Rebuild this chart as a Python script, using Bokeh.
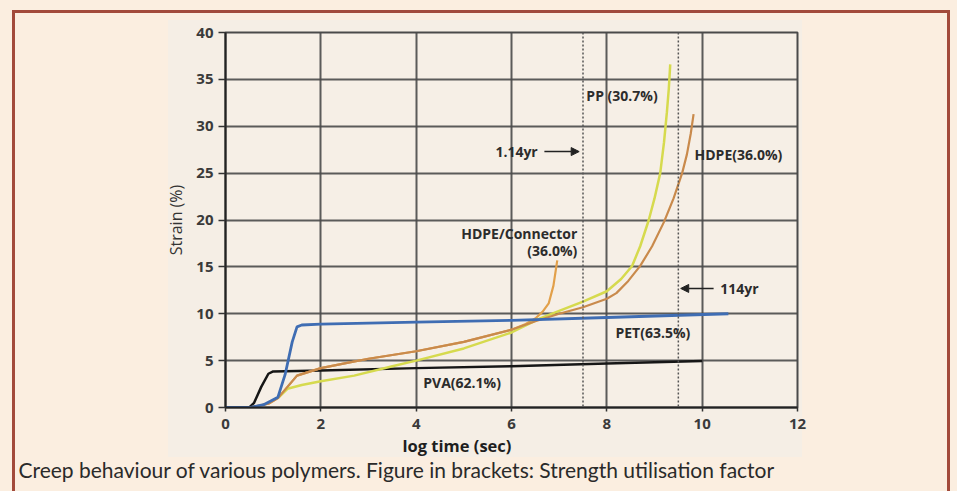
from bokeh.plotting import figure
from bokeh.models import Label, Arrow, NormalHead, Span, FixedTicker, Title
from bokeh.embed import file_html
from bokeh.resources import INLINE

# ---- data ----
x_ticks = [0, 2, 4, 6, 8, 10, 12]
y_ticks = [0, 5, 10, 15, 20, 25, 30, 35, 40]

pet_x = [0, 0.5, 0.8, 1.1, 1.25, 1.4, 1.5, 1.6, 2.0, 4.0, 6.0, 8.0, 10.55]
pet_y = [0, 0, 0.3, 1.1, 3.5, 7.0, 8.6, 8.8, 8.9, 9.1, 9.3, 9.6, 10.0]

pva_x = [0, 0.5, 0.6, 0.75, 0.9, 1.0, 2.0, 4.0, 6.0, 8.0, 10.0]
pva_y = [0, 0, 0.5, 2.2, 3.6, 3.85, 3.95, 4.2, 4.4, 4.7, 4.95]

hdpe_x = [0.5, 0.9, 1.1, 1.3, 1.5, 2.0, 2.5, 3.0, 4.0, 5.0, 6.0, 6.5, 7.0, 7.5, 8.0,
          8.2, 8.45, 8.7, 8.95, 9.2, 9.4, 9.58, 9.68, 9.76, 9.82]
hdpe_y = [0, 0.4, 1.0, 2.2, 3.4, 4.2, 4.7, 5.2, 6.0, 7.0, 8.3, 9.2, 10.0, 10.7, 11.6,
          12.2, 13.5, 15.1, 17.2, 19.8, 22.3, 25.0, 27.0, 29.2, 31.3]

conn_x = [0.5, 0.9, 1.1, 1.3, 1.5, 2.0, 2.5, 3.0, 4.0, 5.0, 6.0, 6.3, 6.5, 6.65, 6.78,
          6.88, 6.96]
conn_y = [0, 0.4, 1.0, 2.2, 3.4, 4.2, 4.7, 5.2, 6.0, 7.0, 8.3, 8.9, 9.5, 10.2, 11.1,
          13.0, 15.7]

pp_x = [1.1, 1.3, 1.6, 2.0, 2.7, 3.5, 4.0, 5.0, 6.0, 6.6, 7.0, 7.5, 8.0, 8.3, 8.53,
        8.7, 8.88, 9.0, 9.12, 9.2, 9.26, 9.3, 9.33]
pp_y = [1.0, 2.0, 2.4, 2.8, 3.4, 4.4, 5.0, 6.3, 8.0, 9.5, 10.3, 11.3, 12.4, 13.7, 15.1,
        17.2, 20.0, 22.3, 25.0, 28.3, 31.5, 34.0, 36.6]

marker_times = [7.5, 9.5]   # 1.14 yr and 114 yr

# ---- figure ----
CREAM = "#fbeee0"
PANEL = "#f5eee5"
BRD = "#a24a3b"
p = figure(width=957, height=491, x_range=(0, 12), y_range=(0, 40),
           output_backend="svg", toolbar_location=None,
           min_border_left=225, min_border_right=160, min_border_top=32,
           min_border_bottom=84,
           background_fill_color="#f6efe6", border_fill_color=None)
p.styles = {
    "background": (f"linear-gradient({BRD},{BRD}) 12px 10px / 3px 100% no-repeat, "
                   f"linear-gradient({BRD},{BRD}) 12px 10px / 938px 3px no-repeat, "
                   f"linear-gradient({BRD},{BRD}) 947px 10px / 3px 100% no-repeat, "
                   f"linear-gradient({PANEL},{PANEL}) 168px 20px / 634px 437px no-repeat, "
                   f"{CREAM}"),
}

p.outline_line_color = "#4a4a4a"
p.outline_line_width = 2

p.xaxis.ticker = FixedTicker(ticks=x_ticks)
p.yaxis.ticker = FixedTicker(ticks=y_ticks)
for ax in (p.xaxis[0], p.yaxis[0]):
    ax.axis_line_color = "#222222"
    ax.axis_line_width = 2
    ax.major_tick_line_color = "#333333"
    ax.major_tick_line_width = 1.5
    ax.major_tick_in = 0
    ax.minor_tick_line_color = None
    ax.major_label_text_font = "Open Sans"
    ax.major_label_text_font_style = "bold"
    ax.major_label_text_font_size = "15px"
    ax.major_label_text_color = "#3a3a3a"

p.xaxis.major_tick_out = 4
p.xaxis.major_label_standoff = 7
p.yaxis.major_tick_out = 7
p.yaxis.major_label_standoff = 5
p.yaxis.axis_label = "Strain (%)"
p.yaxis.axis_label_text_font = "Open Sans"
p.yaxis.axis_label_text_font_style = "normal"
p.yaxis.axis_label_text_font_size = "16px"
p.yaxis.axis_label_text_color = "#333333"
p.yaxis.axis_label_standoff = 6

p.grid.grid_line_color = "#4a4a4a"
p.grid.grid_line_width = 2
p.grid.grid_line_alpha = 0.9

for t in marker_times:
    p.add_layout(Span(location=t, dimension="height", line_color="#555555",
                      line_width=1.5, line_dash="2 2"))

# curves
p.line(pva_x, pva_y, line_color="#161616", line_width=2.5)
p.line(conn_x, conn_y, line_color="#e2a04a", line_width=2.2)
p.line(pp_x, pp_y, line_color="#d6da4e", line_width=2.5)
p.line(hdpe_x, hdpe_y, line_color="#c98a4c", line_width=2.2)
p.line(pet_x, pet_y, line_color="#3f6db3", line_width=2.8)

# annotations
lab = dict(text_font="Open Sans", text_font_style="bold", text_font_size="14px",
           text_color="#2c2c2c", text_baseline="middle")
p.add_layout(Label(x=7.57, y=33.3, text="PP (30.7%)", text_align="left", **lab))
p.add_layout(Label(x=9.84, y=27.0, text="HDPE(36.0%)", text_align="left", **lab))
p.add_layout(Label(x=6.55, y=27.3, text="1.14yr", text_align="right", **lab))
p.add_layout(Label(x=10.38, y=12.7, text="114yr", text_align="left", **lab))
p.add_layout(Label(x=7.38, y=18.6, text="HDPE/Connector", text_align="right", **lab))
p.add_layout(Label(x=7.38, y=16.7, text="(36.0%)", text_align="right", **lab))
p.add_layout(Label(x=8.18, y=8.0, text="PET(63.5%)", text_align="left", **lab))
p.add_layout(Label(x=4.15, y=2.7, text="PVA(62.1%)", text_align="left", **lab))

p.add_layout(Arrow(x_start=6.69, y_start=27.3, x_end=7.42, y_end=27.3,
                   line_color="#222222", line_width=1.5,
                   end=NormalHead(size=8, fill_color="#222222", line_color="#222222")))
p.add_layout(Arrow(x_start=10.24, y_start=12.7, x_end=9.55, y_end=12.7,
                   line_color="#222222", line_width=1.5,
                   end=NormalHead(size=8, fill_color="#222222", line_color="#222222")))

# x-axis title and caption (side panels below the axis)
p.add_layout(Title(text="log time (sec)", align="left", offset=177, standoff=0,
                   text_font="Open Sans", text_font_style="bold",
                   text_font_size="16.5px", text_color="#1e1e1e"), "below")
p.add_layout(Title(text="Creep behaviour of various polymers. "
                   "Figure in brackets: Strength utilisation factor",
                   align="left", offset=-207, standoff=-4, text_font="Lato",
                   text_font_style="normal", text_font_size="21px",
                   text_color="#2a2a2a"), "below")

open("out.html", "w").write(file_html(p, INLINE))
